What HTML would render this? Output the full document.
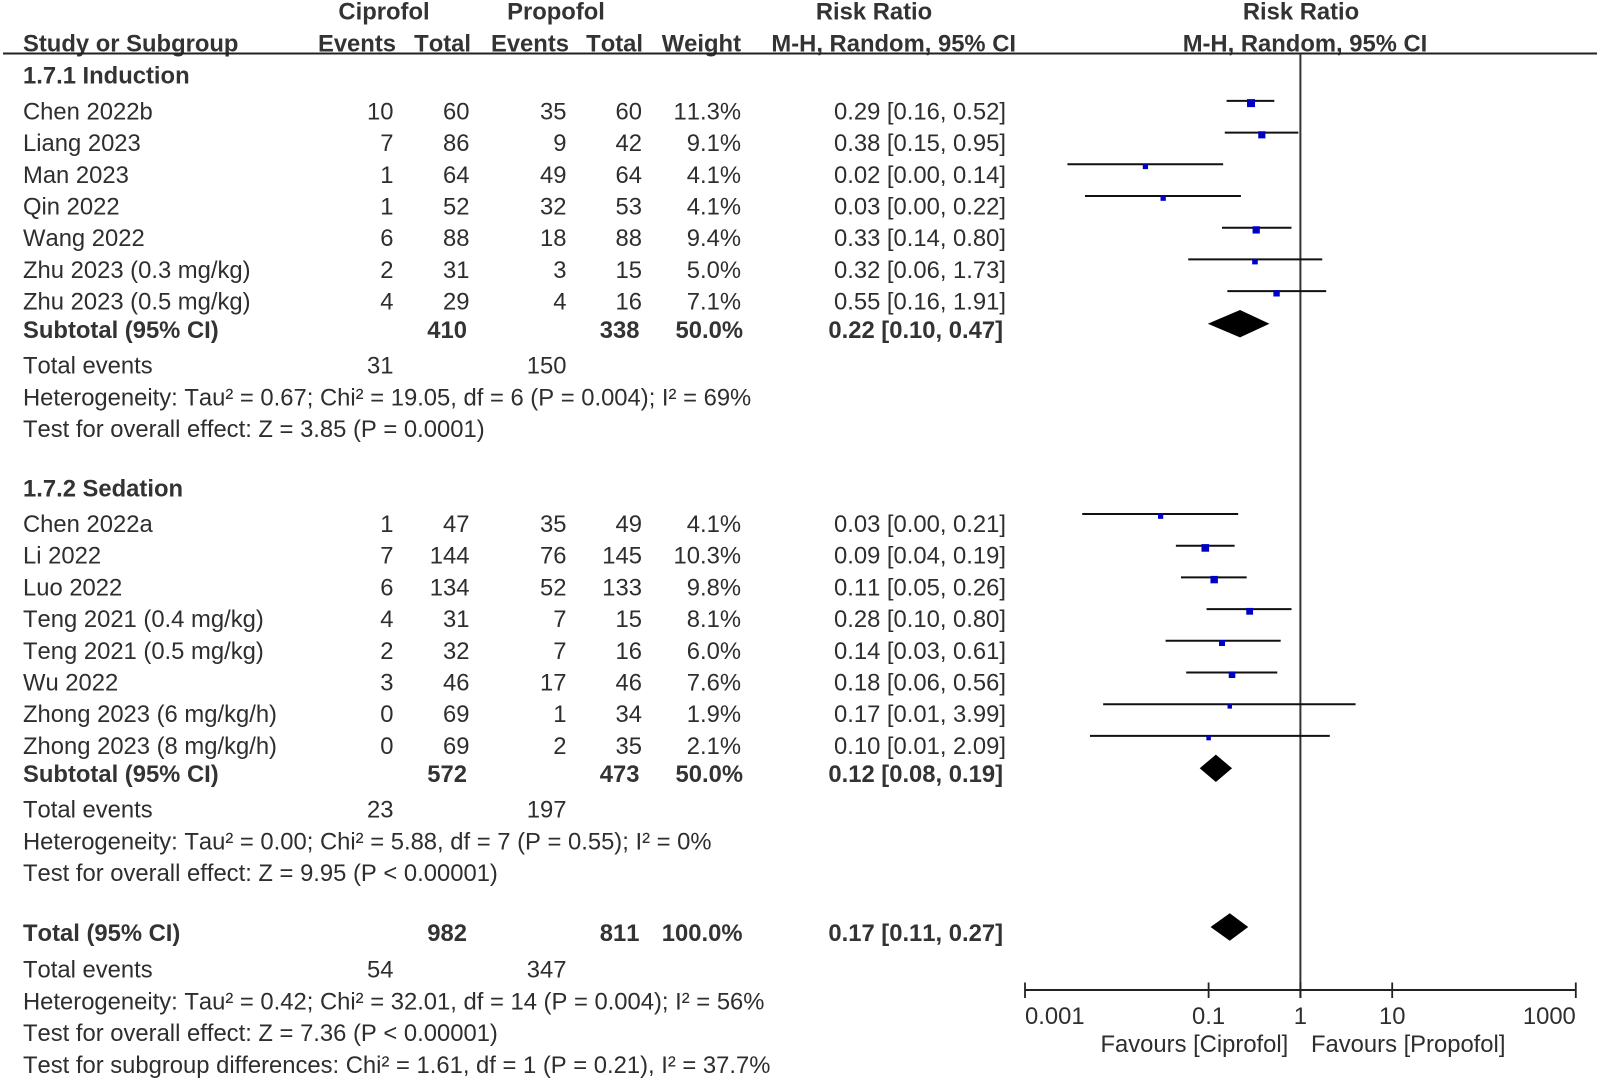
<!DOCTYPE html>
<html lang="en">
<head>
<meta charset="utf-8">
<title>Forest plot: Ciprofol vs Propofol</title>
<style>
html,body{margin:0;padding:0;background:#fff;width:1600px;height:1080px;overflow:hidden}
svg{display:block;position:absolute;left:0;top:0}
text{font-family:"Liberation Sans",Arial,sans-serif;font-size:23.8px;fill:#2e2e2e;font-kerning:none}
.b{font-weight:bold;fill:#333}
.r{text-anchor:end}
.m{text-anchor:middle}
</style>
</head>
<body>
<svg id="plot" width="1600" height="1080" viewBox="0 0 1600 1080" xmlns="http://www.w3.org/2000/svg">
<g>
<text class="b m" x="384" y="19.7">Ciprofol</text>
<text class="b m" x="556" y="19.7">Propofol</text>
<text class="b m" x="874" y="19.7">Risk Ratio</text>
<text class="b m" x="1301" y="19.7">Risk Ratio</text>
<text class="b" x="23" y="51.3">Study or Subgroup</text>
<text class="b r" x="396" y="51.3">Events</text>
<text class="b r" x="471" y="51.3">Total</text>
<text class="b r" x="569" y="51.3">Events</text>
<text class="b r" x="643" y="51.3">Total</text>
<text class="b r" x="741" y="51.3">Weight</text>
<text class="b r" x="1016" y="51.3">M-H, Random, 95% CI</text>
<text class="b m" x="1305" y="51.3">M-H, Random, 95% CI</text>
</g>
<line x1="3" y1="53.5" x2="1597" y2="53.5" stroke="#222" stroke-width="2"/>

<text class="b" x="23" y="83.5">1.7.1 Induction</text>

<g transform="translate(0,119.4)"><text x="23">Chen 2022b</text><text class="r" x="393.5">10</text><text class="r" x="469.5">60</text><text class="r" x="566.5">35</text><text class="r" x="642">60</text><text class="r" x="741">11.3%</text><text class="r" x="1006">0.29 [0.16, 0.52]</text></g>
<g transform="translate(0,151.1)"><text x="23">Liang 2023</text><text class="r" x="393.5">7</text><text class="r" x="469.5">86</text><text class="r" x="566.5">9</text><text class="r" x="642">42</text><text class="r" x="741">9.1%</text><text class="r" x="1006">0.38 [0.15, 0.95]</text></g>
<g transform="translate(0,182.8)"><text x="23">Man 2023</text><text class="r" x="393.5">1</text><text class="r" x="469.5">64</text><text class="r" x="566.5">49</text><text class="r" x="642">64</text><text class="r" x="741">4.1%</text><text class="r" x="1006">0.02 [0.00, 0.14]</text></g>
<g transform="translate(0,214.5)"><text x="23">Qin 2022</text><text class="r" x="393.5">1</text><text class="r" x="469.5">52</text><text class="r" x="566.5">32</text><text class="r" x="642">53</text><text class="r" x="741">4.1%</text><text class="r" x="1006">0.03 [0.00, 0.22]</text></g>
<g transform="translate(0,246.2)"><text x="23">Wang 2022</text><text class="r" x="393.5">6</text><text class="r" x="469.5">88</text><text class="r" x="566.5">18</text><text class="r" x="642">88</text><text class="r" x="741">9.4%</text><text class="r" x="1006">0.33 [0.14, 0.80]</text></g>
<g transform="translate(0,277.9)"><text x="23">Zhu 2023 (0.3 mg/kg)</text><text class="r" x="393.5">2</text><text class="r" x="469.5">31</text><text class="r" x="566.5">3</text><text class="r" x="642">15</text><text class="r" x="741">5.0%</text><text class="r" x="1006">0.32 [0.06, 1.73]</text></g>
<g transform="translate(0,309.6)"><text x="23">Zhu 2023 (0.5 mg/kg)</text><text class="r" x="393.5">4</text><text class="r" x="469.5">29</text><text class="r" x="566.5">4</text><text class="r" x="642">16</text><text class="r" x="741">7.1%</text><text class="r" x="1006">0.55 [0.16, 1.91]</text></g>
<g transform="translate(0,338)"><text class="b" x="23">Subtotal (95% CI)</text><text class="b r" x="467">410</text><text class="b r" x="639.5">338</text><text class="b r" x="743">50.0%</text><text class="b r" x="1003">0.22 [0.10, 0.47]</text></g>
<g transform="translate(0,373.7)"><text x="23">Total events</text><text class="r" x="393.5">31</text><text class="r" x="566.5">150</text></g>
<text x="23" y="405.4">Heterogeneity: Tau² = 0.67; Chi² = 19.05, df = 6 (P = 0.004); I² = 69%</text>
<text x="23" y="437.1">Test for overall effect: Z = 3.85 (P = 0.0001)</text>

<text class="b" x="23" y="496.5">1.7.2 Sedation</text>

<g transform="translate(0,532)"><text x="23">Chen 2022a</text><text class="r" x="393.5">1</text><text class="r" x="469.5">47</text><text class="r" x="566.5">35</text><text class="r" x="642">49</text><text class="r" x="741">4.1%</text><text class="r" x="1006">0.03 [0.00, 0.21]</text></g>
<g transform="translate(0,563.7)"><text x="23">Li 2022</text><text class="r" x="393.5">7</text><text class="r" x="469.5">144</text><text class="r" x="566.5">76</text><text class="r" x="642">145</text><text class="r" x="741">10.3%</text><text class="r" x="1006">0.09 [0.04, 0.19]</text></g>
<g transform="translate(0,595.4)"><text x="23">Luo 2022</text><text class="r" x="393.5">6</text><text class="r" x="469.5">134</text><text class="r" x="566.5">52</text><text class="r" x="642">133</text><text class="r" x="741">9.8%</text><text class="r" x="1006">0.11 [0.05, 0.26]</text></g>
<g transform="translate(0,627.1)"><text x="23">Teng 2021 (0.4 mg/kg)</text><text class="r" x="393.5">4</text><text class="r" x="469.5">31</text><text class="r" x="566.5">7</text><text class="r" x="642">15</text><text class="r" x="741">8.1%</text><text class="r" x="1006">0.28 [0.10, 0.80]</text></g>
<g transform="translate(0,658.8)"><text x="23">Teng 2021 (0.5 mg/kg)</text><text class="r" x="393.5">2</text><text class="r" x="469.5">32</text><text class="r" x="566.5">7</text><text class="r" x="642">16</text><text class="r" x="741">6.0%</text><text class="r" x="1006">0.14 [0.03, 0.61]</text></g>
<g transform="translate(0,690.5)"><text x="23">Wu 2022</text><text class="r" x="393.5">3</text><text class="r" x="469.5">46</text><text class="r" x="566.5">17</text><text class="r" x="642">46</text><text class="r" x="741">7.6%</text><text class="r" x="1006">0.18 [0.06, 0.56]</text></g>
<g transform="translate(0,722.2)"><text x="23">Zhong 2023 (6 mg/kg/h)</text><text class="r" x="393.5">0</text><text class="r" x="469.5">69</text><text class="r" x="566.5">1</text><text class="r" x="642">34</text><text class="r" x="741">1.9%</text><text class="r" x="1006">0.17 [0.01, 3.99]</text></g>
<g transform="translate(0,753.9)"><text x="23">Zhong 2023 (8 mg/kg/h)</text><text class="r" x="393.5">0</text><text class="r" x="469.5">69</text><text class="r" x="566.5">2</text><text class="r" x="642">35</text><text class="r" x="741">2.1%</text><text class="r" x="1006">0.10 [0.01, 2.09]</text></g>
<g transform="translate(0,782)"><text class="b" x="23">Subtotal (95% CI)</text><text class="b r" x="467">572</text><text class="b r" x="639.5">473</text><text class="b r" x="743">50.0%</text><text class="b r" x="1003">0.12 [0.08, 0.19]</text></g>
<g transform="translate(0,817.7)"><text x="23">Total events</text><text class="r" x="393.5">23</text><text class="r" x="566.5">197</text></g>
<text x="23" y="849.4">Heterogeneity: Tau² = 0.00; Chi² = 5.88, df = 7 (P = 0.55); I² = 0%</text>
<text x="23" y="881.1">Test for overall effect: Z = 9.95 (P &lt; 0.00001)</text>

<g transform="translate(0,941)"><text class="b" x="23">Total (95% CI)</text><text class="b r" x="467">982</text><text class="b r" x="639.5">811</text><text class="b r" x="742.5">100.0%</text><text class="b r" x="1003">0.17 [0.11, 0.27]</text></g>
<g transform="translate(0,977.7)"><text x="23">Total events</text><text class="r" x="393.5">54</text><text class="r" x="566.5">347</text></g>
<text x="23" y="1009.4">Heterogeneity: Tau² = 0.42; Chi² = 32.01, df = 14 (P = 0.004); I² = 56%</text>
<text x="23" y="1041.1">Test for overall effect: Z = 7.36 (P &lt; 0.00001)</text>
<text x="23" y="1072.8">Test for subgroup differences: Chi² = 1.61, df = 1 (P = 0.21), I² = 37.7%</text>

<text x="1100.5" y="1052">Favours [Ciprofol]</text>
<text x="1311" y="1052">Favours [Propofol]</text>

<g id="marks"></g>
</svg>
<script>
// Study-level plotted values (induction group first, then sedation)
const inductionEffects = [0.29, 0.38, 0.0205, 0.032, 0.33, 0.32, 0.55];
const inductionLows    = [0.157, 0.15, 0.0029, 0.0045, 0.14, 0.06, 0.16];
const inductionHighs   = [0.52, 0.95, 0.144, 0.225, 0.80, 1.73, 1.91];
const inductionWeights = [11.3, 9.1, 4.1, 4.1, 9.4, 5.0, 7.1];
const sedationEffects  = [0.03, 0.092, 0.115, 0.28, 0.14, 0.18, 0.17, 0.10];
const sedationLows     = [0.0042, 0.044, 0.05, 0.095, 0.034, 0.057, 0.0071, 0.0051];
const sedationHighs    = [0.21, 0.192, 0.26, 0.80, 0.61, 0.56, 3.99, 2.09];
const sedationWeights  = [4.1, 10.3, 9.8, 8.1, 6.0, 7.6, 1.9, 2.1];
// Pooled estimates: induction subtotal, sedation subtotal, overall total
const pooledEffects = [0.22, 0.12, 0.17];
const pooledLows    = [0.098, 0.08, 0.105];
const pooledHighs   = [0.46, 0.18, 0.27];
// Axis ticks
const tickValues = [0.001, 0.1, 1, 10, 1000];
const tickLabels = ['0.001', '0.1', '1', '10', '1000'];

const NS = 'http://www.w3.org/2000/svg';
const marks = document.getElementById('marks');
const AXIS_Y = 990, NULL_X = 1300.4, DECADE = 91.8;

function xScale(v) { return NULL_X + Math.log10(v) * DECADE; }
function inductionRowY(i) { return 111.4 + i * 31.7; }
function sedationRowY(i) { return 524.5 + i * 31.7; }
function pooledY(i) { return i === 0 ? 323.7 : i === 1 ? 768.3 : 927; }
function markerSize(w) { return 3.7 + 0.38 * w; }

function make(tag, attrs) {
  const el = document.createElementNS(NS, tag);
  for (const k in attrs) el.setAttribute(k, attrs[k]);
  marks.appendChild(el);
  return el;
}

// Null-effect vertical line
const nullLine = make('line', { x1: xScale(1), x2: xScale(1), y1: 54, y2: AXIS_Y + 8, stroke: '#333', 'stroke-width': 2 });



// X axis
const axisLine = make('line', { x1: xScale(tickValues[0]), x2: xScale(tickValues[tickValues.length - 1]), y1: AXIS_Y, y2: AXIS_Y, stroke: '#222', 'stroke-width': 2 });



tickValues.forEach(function (v, i) {
  const tick = make('line', { x1: xScale(v), x2: xScale(v), y1: AXIS_Y - 7.5, y2: AXIS_Y + 8, stroke: '#222', 'stroke-width': 1.8 });
  
  
  const anchor = i === 0 ? 'start' : i === tickValues.length - 1 ? 'end' : 'middle';
  const label = make('text', { x: xScale(v), y: AXIS_Y + 34.2, 'text-anchor': anchor });
  label.textContent = tickLabels[i];
  
  
});

// Study confidence intervals and point estimates
function drawStudies(effects, lows, highs, weights, rowY) {
  effects.forEach(function (e, i) {
    const y = rowY(i);
    const ci = make('line', { x1: xScale(lows[i]), x2: xScale(highs[i]), y1: y - 10.5, y2: y - 10.5, stroke: '#111', 'stroke-width': 2 });
    
    
    const s = markerSize(weights[i]);
    const point = make('rect', { x: xScale(e) - s / 2, y: y - 8.3 - s / 2, width: s, height: s, fill: '#0000c4' });
    
    
  });
}
drawStudies(inductionEffects, inductionLows, inductionHighs, inductionWeights, inductionRowY);
drawStudies(sedationEffects, sedationLows, sedationHighs, sedationWeights, sedationRowY);

// Pooled diamonds
pooledEffects.forEach(function (e, i) {
  const y = pooledY(i);
  const pts = [[xScale(pooledLows[i]), y], [xScale(e), y - 13.7], [xScale(pooledHighs[i]), y], [xScale(e), y + 13.7]]
    .map(function (p) { return p.join(','); }).join(' ');
  const diamond = make('polygon', { points: pts, fill: '#000' });
  
  
});
</script>
</body>
</html>
